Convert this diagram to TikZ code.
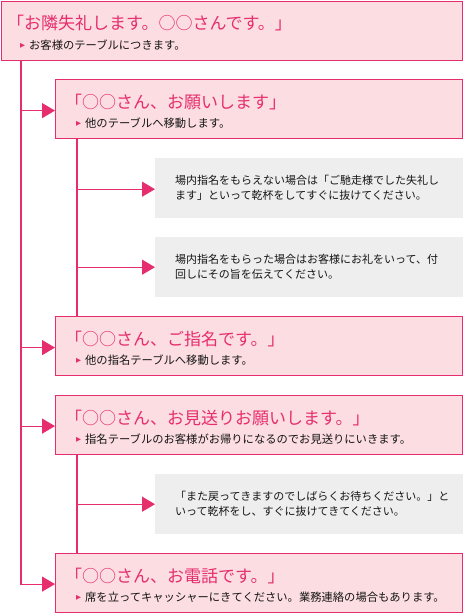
\documentclass[tikz,border=0pt]{standalone}
\usepackage{fontspec}
\setmainfont{Noto Sans CJK JP}
\newfontfamily\dejavu{DejaVu Sans}
\usetikzlibrary{arrows.meta,calc}
\definecolor{callpink}{HTML}{E62E6E}
\definecolor{callfill}{HTML}{FCDDE2}
\definecolor{notegray}{HTML}{EEEEEE}
\definecolor{textgray}{HTML}{151515}
\newcommand{\pinkbullet}{\raisebox{1.5pt}{\dejavu\fontsize{6.5}{6.5}\selectfont\color{callpink}▶}\hspace{4pt}}

\begin{document}
\begin{tikzpicture}[x=1pt, y=-1pt,
  callbox/.style={draw=callpink, fill=callfill, line width=1.2pt, anchor=north west,
                  minimum width=#1, minimum height=59pt, inner sep=0pt},
  notebox/.style={fill=notegray, anchor=north west, minimum width=308pt,
                  minimum height=60pt, inner sep=0pt},
  call/.style={anchor=west, inner sep=0pt, text=callpink,
               font=\fontsize{17}{17}\selectfont},
  info/.style={anchor=west, inner sep=0pt, text=textgray,
               font=\fontsize{11.3}{13}\selectfont},
  note/.style={anchor=west, inner sep=0pt, align=left, text=textgray,
               font=\fontsize{11}{15}\selectfont},
  arr/.style={-{Triangle[length=13pt,width=15pt]}, draw=callpink, line width=1.2pt},
  lnk/.style={draw=callpink, line width=1.2pt}
]
  \useasboundingbox (0,0) rectangle (463,613);

  \node[callbox=461pt] (seat) at (1,1) {};
  \node[call] (seatcall) at ($(seat.north west)+(6,22)$)
        {「お隣失礼します。○○さんです。」};
  \node[info] (seatinfo) at ($(seat.north west)+(19,44)$)
        {\pinkbullet お客様のテーブルにつきます。};

  \node[callbox=407pt] (ask) at (55,79) {};
  \node[call] (askcall) at ($(ask.north west)+(10,23)$)
        {「○○さん、お願いします」};
  \node[info] (askinfo) at ($(ask.north west)+(21,44)$)
        {\pinkbullet 他のテーブルへ移動します。};

  \node[notebox] (refuse) at (155,158) {};
  \node[note] (refusetext) at ($(refuse.west)+(20,0)$)
        {場内指名をもらえない場合は「ご馳走様でした失礼し\\ます」といって乾杯をしてすぐに抜けてください。};

  \node[notebox] (accept) at (155,237) {};
  \node[note] (accepttext) at ($(accept.west)+(20,0)$)
        {場内指名をもらった場合はお客様にお礼をいって、付\\回しにその旨を伝えてください。};

  \node[callbox=407pt] (named) at (55,316) {};
  \node[call] (namedcall) at ($(named.north west)+(10,23)$)
        {「○○さん、ご指名です。」};
  \node[info] (namedinfo) at ($(named.north west)+(21,44)$)
        {\pinkbullet 他の指名テーブルへ移動します。};

  \node[callbox=407pt] (seeoff) at (55,395) {};
  \node[call] (seeoffcall) at ($(seeoff.north west)+(10,23)$)
        {「○○さん、お見送りお願いします。」};
  \node[info] (seeoffinfo) at ($(seeoff.north west)+(21,44)$)
        {\pinkbullet 指名テーブルのお客様がお帰りになるのでお見送りにいきます。};

  \node[notebox] (leave) at (155,474) {};
  \node[note] (leavetext) at ($(leave.west)+(20,0)$)
        {「また戻ってきますのでしばらくお待ちください。」と\\いって乾杯をし、すぐに抜けてきてください。};

  \node[callbox=407pt] (phone) at (55,553) {};
  \node[call] (phonecall) at ($(phone.north west)+(10,23)$)
        {「○○さん、お電話です。」};
  \node[info] (phoneinfo) at ($(phone.north west)+(21,44)$)
        {\pinkbullet 席を立ってキャッシャーにきてください。業務連絡の場合もあります。};

  \coordinate (trunk) at ($(seat.south west)+(20,0)$);
  \draw[arr] (trunk) |- ([yshift=-1.5pt]ask.west);
  \draw[arr] (trunk) |- ([yshift=-1.5pt]named.west);
  \draw[arr] (trunk) |- ([yshift=-1pt]seeoff.west);
  \draw[arr] (trunk) |- ([yshift=-1pt]phone.west);

  \coordinate (askfork) at ($(ask.south west)+(22,0)$);
  \draw[lnk] (askfork) -- (askfork |- named.north);
  \draw[arr] (askfork) |- ([yshift=-1pt]refuse.west);
  \draw[arr] (askfork) |- (accept.west);

  \coordinate (seeofffork) at ($(seeoff.south west)+(22,0)$);
  \draw[lnk] (seeofffork) -- (seeofffork |- phone.north);
  \draw[arr] (seeofffork) |- (leave.west);
\end{tikzpicture}
\end{document}
